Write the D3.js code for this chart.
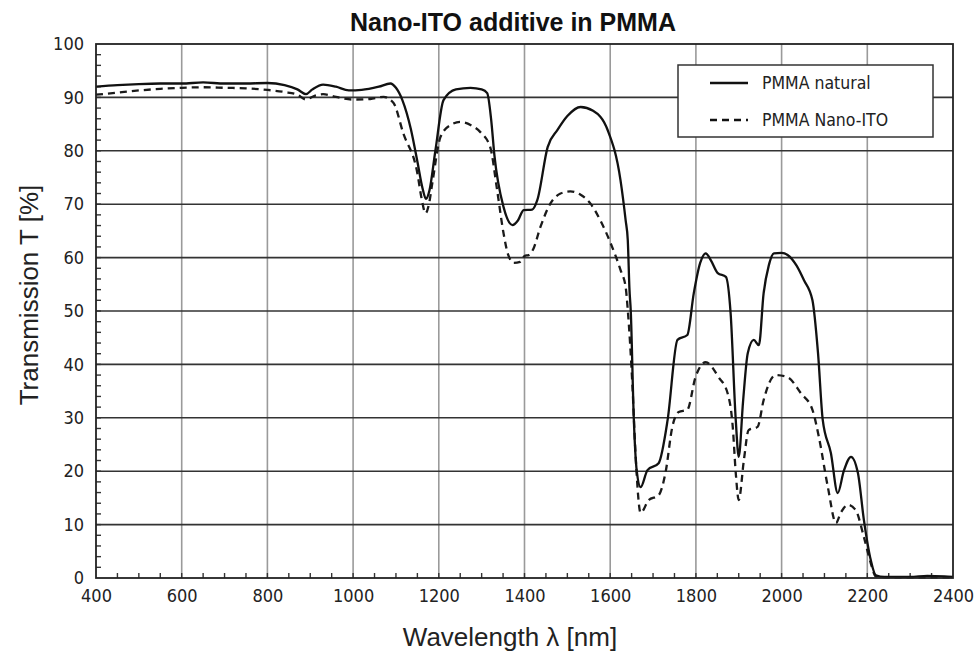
<!DOCTYPE html>
<html><head><meta charset="utf-8">
<script src="https://cdn.jsdelivr.net/npm/d3@7"></script>
<style>body{margin:0;background:#fff}svg{display:block}</style>
</head><body>
<script>
const title = "Nano-ITO additive in PMMA";
const xLabel = "Wavelength λ [nm]";
const yLabel = "Transmission T [%]";
const seriesNames = ["PMMA natural", "PMMA Nano-ITO"];
const xTicks = [400,600,800,1000,1200,1400,1600,1800,2000,2200,2400];
const yTicks = [0,10,20,30,40,50,60,70,80,90,100];

const naturalWl = [400,450,500,550,600,650,700,750,800,840,870,890,905,930,960,990,1020,1060,1087,1100,1115,1135,1150,1162,1170,1178,1192,1211,1240,1274,1300,1313,1322,1330,1351,1372,1385,1398,1418,1430,1454,1477,1500,1531,1560,1594,1624,1636,1641,1645,1648,1655,1662,1671,1687,1713,1734,1757,1780,1795,1810,1823,1835,1851,1870,1881,1893,1900,1910,1921,1935,1947,1958,1970,1982,2000,2014,2035,2052,2072,2085,2096,2115,2131,2145,2162,2178,2192,2208,2220,2240,2300,2340,2380,2400];
const naturalT = [92.0,92.3,92.5,92.6,92.6,92.8,92.6,92.6,92.7,92.3,91.5,90.6,91.5,92.4,92.0,91.3,91.4,92.0,92.6,91.8,89.5,84,78,73,71,72.5,80,89.5,91.5,91.8,91.5,90.8,86,79,69.5,66.1,67,68.9,69,70.8,80.7,83.9,86.5,88.2,87.5,83.9,74.5,67,63.3,54,50,30,20,17,20.2,21.5,29.6,44.6,45.5,53.3,59,60.8,59.5,57.1,56.4,49.6,29.6,22.7,33,42.1,44.6,43.6,53.3,58.5,60.8,60.9,60.5,58.5,55.8,52,42.1,29.6,23.4,15.9,20,22.7,19.7,10.9,3.4,0.5,0.2,0.2,0.4,0.3,0.2];

const itoWl = [400,450,500,550,600,650,700,750,800,840,870,890,910,930,960,1000,1040,1071,1094,1117,1150,1160,1169,1177,1185,1204,1227,1250,1275,1297,1320,1336,1351,1362,1375,1390,1400,1410,1420,1437,1461,1484,1507,1530,1554,1578,1601,1624,1636,1641,1652,1659,1671,1690,1713,1729,1745,1760,1780,1799,1823,1853,1874,1886,1893,1900,1912,1923,1944,1958,1986,2014,2045,2072,2087,2108,2127,2138,2155,2173,2192,2208,2220,2260,2400];
const itoT = [90.5,90.9,91.3,91.6,91.8,91.9,91.8,91.7,91.4,91,90.5,89.6,90.3,90.6,90.1,89.6,89.7,90.1,89,83.3,75.8,71,68.3,70,74,82.6,84.8,85.4,84.8,83.5,80.7,72.7,64.6,60.5,59,59.2,60.3,60.5,61.5,65.7,70.2,72,72.4,71.8,70.1,66.8,62.7,57.7,54.5,50.2,35.8,23.4,12.2,14.6,15.5,19.7,28.3,31.1,31.5,37.6,40.4,37.6,34.6,28.3,19.7,14.6,22.1,27.7,28.3,33.3,38,37.6,34.6,31.5,26.4,17,10.3,12.2,13.7,12.7,7.7,2.8,0.3,0.1,0.1];

const W = 978, H = 658;
const L = 96, R = 953, T = 44, B = 578;
const svg = d3.select("body").append("svg").attr("width", W).attr("height", H);
const x = d3.scaleLinear().domain([400, 2400]).range([L, R]);
const y = d3.scaleLinear().domain([0, 100]).range([B, T]);

// vertical grid
svg.append("g").selectAll("line").data(xTicks.slice(1, -1)).join("line")
  .attr("x1", d => x(d)).attr("x2", d => x(d)).attr("y1", T).attr("y2", B)
  .attr("stroke", "#9a9a9a").attr("stroke-width", 1.6);
// horizontal grid
svg.append("g").selectAll("line").data(yTicks.slice(1, -1)).join("line")
  .attr("x1", L).attr("x2", R).attr("y1", d => y(d)).attr("y2", d => y(d))
  .attr("stroke", "#333").attr("stroke-width", 1.6);

// minor ticks
const xMinor = d3.range(450, 2400, 50);
svg.append("g").selectAll("line").data(xMinor).join("line")
  .attr("x1", d => x(d)).attr("x2", d => x(d)).attr("y1", B).attr("y2", B - 5)
  .attr("stroke", "#333").attr("stroke-width", 1.4);
const yMinor = d3.range(2, 100, 2);
svg.append("g").selectAll("line").data(yMinor).join("line")
  .attr("x1", L).attr("x2", L + 5).attr("y1", d => y(d)).attr("y2", d => y(d))
  .attr("stroke", "#333").attr("stroke-width", 1.4);

// axes (labels only)
const xAxis = svg.append("g").attr("transform", `translate(0,${B})`)
  .call(d3.axisBottom(x).tickValues(xTicks).tickSize(0).tickPadding(11).tickFormat(d3.format("d")));
const yAxis = svg.append("g").attr("transform", `translate(${L},0)`)
  .call(d3.axisLeft(y).tickValues(yTicks).tickSize(0).tickPadding(12));
[xAxis, yAxis].forEach(a => {
  a.select(".domain").remove();
  a.selectAll("text").attr("font-family", "'DejaVu Sans Condensed', 'DejaVu Sans'")
    .attr("font-size", 18).attr("fill", "#222");
});

// curves
const line = d3.line().x(d => x(d[0])).y(d => y(d[1])).curve(d3.curveMonotoneX);
const natural = naturalWl.map((w, i) => [w, naturalT[i]]);
const ito = itoWl.map((w, i) => [w, itoT[i]]);
svg.append("path").datum(ito).attr("d", line).attr("fill", "none")
  .attr("stroke", "#1a1a1a").attr("stroke-width", 2.3).attr("stroke-dasharray", "7,5");
svg.append("path").datum(natural).attr("d", line).attr("fill", "none")
  .attr("stroke", "#111").attr("stroke-width", 2.3);

// frame
svg.append("rect").attr("x", L).attr("y", T).attr("width", R - L).attr("height", B - T)
  .attr("fill", "none").attr("stroke", "#222").attr("stroke-width", 1.8);

// legend
const lg = svg.append("g");
lg.append("rect").attr("x", 678).attr("y", 65).attr("width", 255).attr("height", 72)
  .attr("fill", "#fff").attr("stroke", "#333").attr("stroke-width", 1.5);
seriesNames.forEach((n, i) => {
  const yy = 83 + i * 37;
  lg.append("line").attr("x1", 710).attr("x2", 748).attr("y1", yy).attr("y2", yy)
    .attr("stroke", "#111").attr("stroke-width", 2.3)
    .attr("stroke-dasharray", i === 1 ? "7,5" : null);
  lg.append("text").attr("x", 762).attr("y", yy + 6).text(n)
    .attr("font-family", "'DejaVu Sans Condensed', 'DejaVu Sans'").attr("font-size", 17.5).attr("fill", "#222");
});

// titles
svg.append("text").attr("x", 513).attr("y", 31).attr("text-anchor", "middle")
  .attr("font-family", "'Liberation Sans', Arial, sans-serif").attr("font-weight", "bold")
  .attr("font-size", 25).attr("fill", "#111").text(title);
svg.append("text").attr("x", 510).attr("y", 646).attr("text-anchor", "middle")
  .attr("font-family", "'Liberation Sans', Arial, sans-serif")
  .attr("font-size", 26).attr("fill", "#222").text(xLabel);
svg.append("text").attr("transform", `translate(38,295) rotate(-90)`)
  .attr("text-anchor", "middle")
  .attr("font-family", "'Liberation Sans', Arial, sans-serif")
  .attr("font-size", 26).attr("fill", "#222").text(yLabel);
</script>
</body></html>
